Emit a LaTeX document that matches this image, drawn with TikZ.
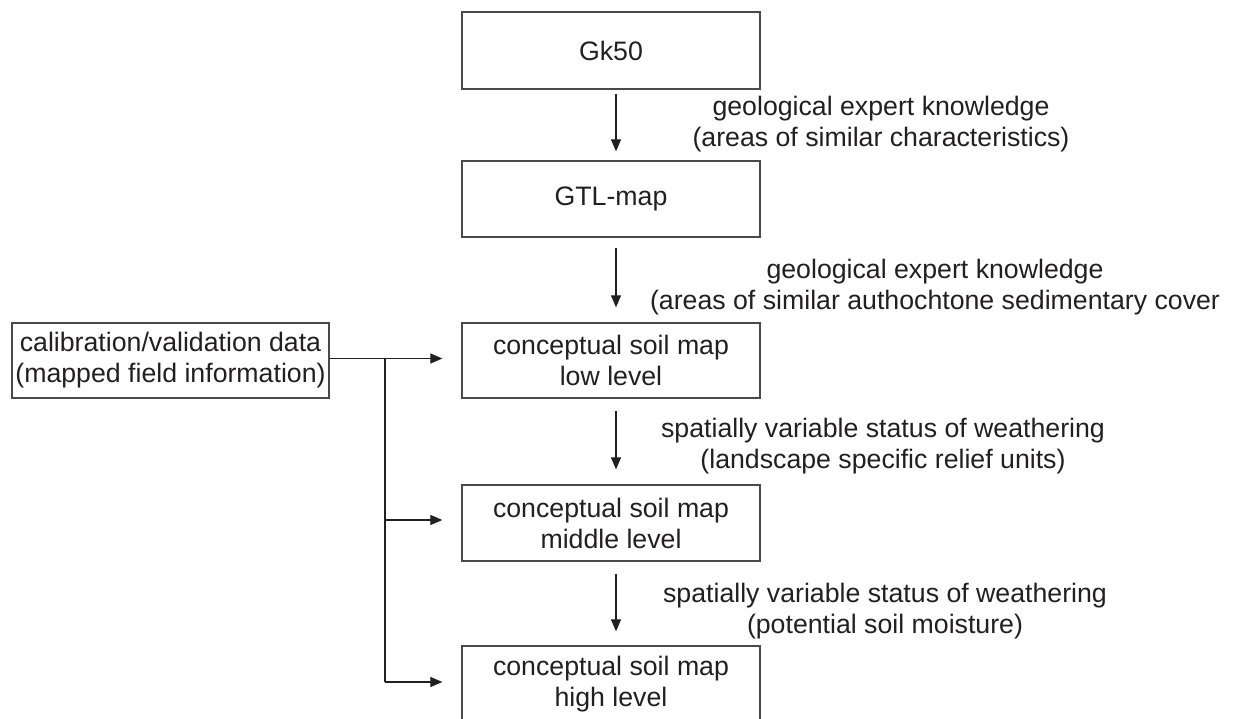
\documentclass[tikz,border=0pt]{standalone}
\usepackage{fontspec}
\setmainfont{Liberation Sans}
\usetikzlibrary{arrows.meta}
\definecolor{ink}{HTML}{231F20}
\definecolor{edge}{HTML}{4A4A4A}
\begin{document}
\begin{tikzpicture}[x=1pt,y=-1pt,
  every node/.style={text=ink,font=\fontsize{26.7}{31}\selectfont},
  box/.style={draw=edge,line width=1.3pt,minimum width=298pt,inner sep=0pt,align=center},
  lbl/.style={align=center,inner sep=0pt},
  conn/.style={draw=ink,line width=1.1pt},
  arr/.style={conn,-{Triangle[length=12pt,width=10pt]}}]
\useasboundingbox (0,0) rectangle (1233,719);
% boxes
\node[box,minimum height=77pt] (gk) at (611,50.5) {Gk50};
\node[box,minimum height=76pt] (gtl) at (611,199) {GTL-map};
\node[box,minimum height=75pt] (low) at (611,360.5) {conceptual soil map\\low level};
\node[box,minimum height=76pt] (mid) at (611,523) {conceptual soil map\\middle level};
\node[box,minimum height=76pt] (high) at (611,684) {conceptual soil map\\high level};
\node[box,minimum width=317pt,minimum height=75pt] (cal) at (170.5,360.5) {calibration/validation data\\(mapped field information)};
% vertical arrows
\draw[arr,shorten <=4pt,shorten >=9pt] ([xshift=5pt]gk.south) -- ([xshift=5pt]gtl.north);
\draw[arr,shorten <=10pt,shorten >=15pt] ([xshift=5pt]gtl.south) -- ([xshift=5pt]low.north);
\draw[arr,shorten <=12pt,shorten >=15pt] ([xshift=5pt]low.south) -- ([xshift=5pt]mid.north);
\draw[arr,shorten <=12pt,shorten >=14pt] ([xshift=5pt]mid.south) -- ([xshift=5pt]high.north);
% side connectors
\coordinate (j) at (385,358.5);
\coordinate (jm) at (385,520);
\coordinate (jb) at (385,682);
\draw[conn] (cal.east |- j) -- (j) -- (jb);
\draw[arr,shorten >=19pt] (j) -- (j -| low.west);
\draw[arr,shorten >=19pt] (jm) -- (jm -| mid.west);
\draw[arr,shorten >=19pt] (jb) -- (jb -| high.west);
% labels
\node[lbl] (l1) at (881,124) {geological expert knowledge\\(areas of similar characteristics)};
\node[lbl] (l2) at (935,287) {geological expert knowledge\\(areas of similar authochtone sedimentary cover};
\node[lbl] (l3) at (883,446) {spatially variable status of weathering\\(landscape specific relief units)};
\node[lbl] (l4) at (885,611) {spatially variable status of weathering\\(potential soil moisture)};
\end{tikzpicture}
\end{document}
